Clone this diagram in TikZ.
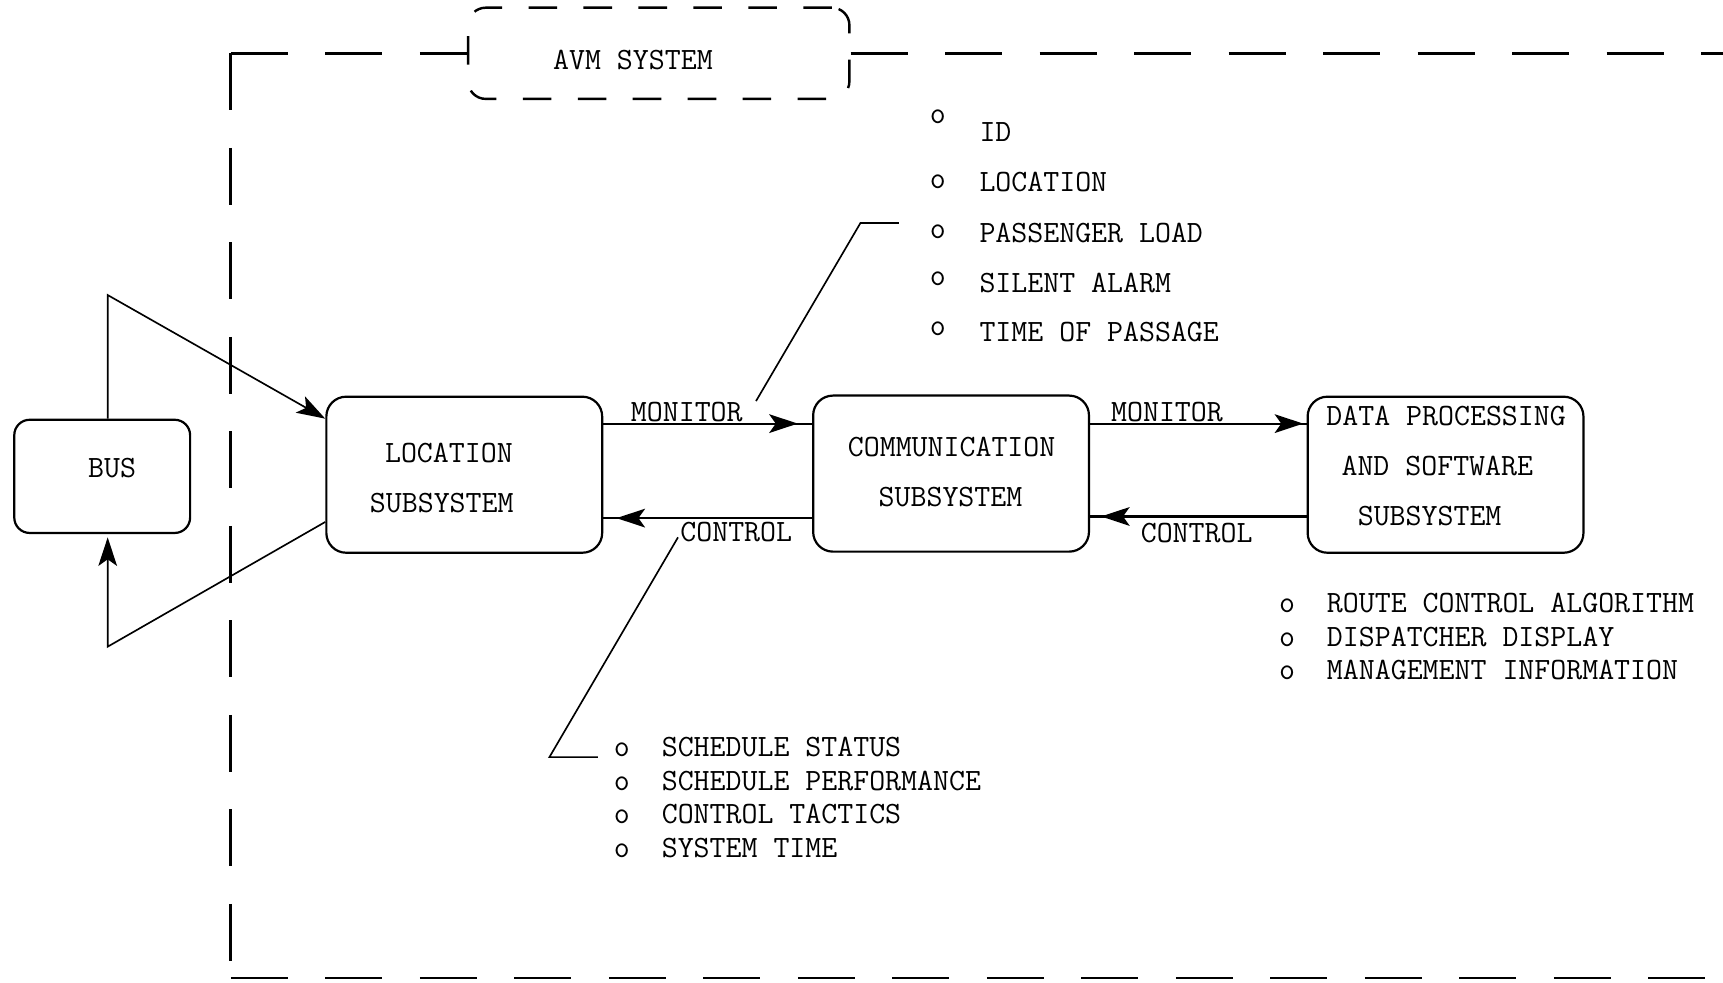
\documentclass[tikz,border=0pt]{standalone}
\usetikzlibrary{arrows.meta}
\begin{document}
\begin{tikzpicture}[x=0.5pt, y=-0.5pt,
  every node/.style={font=\ttfamily\fontsize{14.1}{17}\selectfont, inner sep=0pt},
  txt/.style={text height=8.6pt, text depth=0pt},
  dot/.style={text height=6.1pt, text depth=0pt},
  block/.style={draw, line width=1pt, rounded corners=9pt,
    minimum width=125.5pt, minimum height=71pt},
  sysbox/.style={draw, line width=1.1pt, rounded corners=8pt,
    dash pattern=on 13pt off 12pt},
  frame/.style={line width=1.2pt, dash pattern=on 26pt off 17pt},
  thin/.style={line width=0.75pt},
  tip/.style={-{Stealth[length=13pt,width=8.5pt,inset=3pt]}},
  flow/.style={line width=1pt,
    postaction={draw, tip, shorten >=#1}},
  flow/.default=6pt,
]
\useasboundingbox (0,0) rectangle (1568,894);

% ---- system boundary ----
\node[sysbox, minimum width=173.5pt, minimum height=41.5pt] (avm) at (599.5,48.5) {};
\node[txt] (avm-t) at (576,55) {AVM SYSTEM};
\coordinate (tl) at (210,48.5);
\coordinate (bl) at (210,890);
\coordinate (br) at (1572,890);
\coordinate (tr) at (1572,48.5);
\draw[frame] (tl) -- (avm.west);
\draw[frame] (avm.east) -- (tr);
\draw[frame] (tl) -- (bl);
\draw[frame] (bl) -- (br);

% ---- blocks ----
\node[block, minimum width=80pt, minimum height=51.5pt, rounded corners=7pt] (bus) at (93,433.5) {};
\node[txt] (bus-t) at (102,426) {BUS};

\node[block] (loc) at (422.5,432) {};
\node[txt] (loc-t1) at (408.5,412.5) {LOCATION};
\node[txt] (loc-t2) at (402,458) {SUBSYSTEM};

\node[block] (comm) at (865.5,431) {};
\node[txt] (comm-t1) at (866,406.5) {COMMUNICATION};
\node[txt] (comm-t2) at (865,452) {SUBSYSTEM};

\node[block] (data) at (1315.5,432) {};
\node[txt] (data-t1) at (1316,379) {DATA PROCESSING};
\node[txt] (data-t2) at (1308,424) {AND SOFTWARE};
\node[txt] (data-t3) at (1301,470) {SUBSYSTEM};

% ---- data flows between subsystems ----
\coordinate (ymon) at (0,385.5);
\coordinate (yctl) at (0,471.5);
\coordinate (yctlb) at (0,470);
\draw[flow=6.5pt] (loc.east |- ymon) -- (comm.west |- ymon);
\draw[flow=6pt] (comm.west |- yctl) -- (loc.east |- yctl);
\draw[flow=1.5pt] (comm.east |- ymon) -- (data.west |- ymon);
\draw[flow=5pt] (data.west |- yctlb) -- (comm.east |- yctlb);

\node[txt] (mon1) at (625,375) {MONITOR};
\node[txt] (ctl1) at (670,484) {CONTROL};
\node[txt] (mon2) at (1062,375) {MONITOR};
\node[txt] (ctl2) at (1089,485) {CONTROL};

% ---- bus / location loop ----
\coordinate (fbt) at (98,268.5);
\coordinate (fbb) at (98,588.5);
\coordinate (yin) at (0,381);
\coordinate (yout) at (0,475);
\draw[thin, tip] (bus.north -| fbt) -- (fbt) -- (loc.west |- yin);
\draw[thin, tip, shorten >=1.5pt] (loc.west |- yout) -- (fbb) -- (bus.south -| fbb);

% ---- leader lines to the item lists ----
\coordinate (la1) at (688,365);
\coordinate (la2) at (783,203);
\coordinate (la3) at (818,203);
\draw[thin] (la1) -- (la2) -- (la3);
\coordinate (lb1) at (617,489);
\coordinate (lb2) at (500,689);
\coordinate (lb3) at (544,689);
\draw[thin] (lb1) -- (lb2) -- (lb3);

% ---- monitored items ----
\node[dot] (mb1) at (853.5,106) {o};
\node[txt, anchor=west] (mi1) at (891,120) {ID};
\node[dot] (mb2) at (853.5,165.5) {o};
\node[txt, anchor=west] (mi2) at (891,165.5) {LOCATION};
\node[dot] (mb3) at (853.5,211) {o};
\node[txt, anchor=west] (mi3) at (891,212.5) {PASSENGER LOAD};
\node[dot] (mb4) at (853.5,253.5) {o};
\node[txt, anchor=west] (mi4) at (891,258) {SILENT ALARM};
\node[dot] (mb5) at (853.5,299) {o};
\node[txt, anchor=west] (mi5) at (891,302) {TIME OF PASSAGE};

% ---- control items ----
\node[txt, anchor=west] (ci1) at (558.3,680) {o\ \ SCHEDULE STATUS};
\node[txt, anchor=west] (ci2) at (558.3,710.5) {o\ \ SCHEDULE PERFORMANCE};
\node[txt, anchor=west] (ci3) at (558.3,741) {o\ \ CONTROL TACTICS};
\node[txt, anchor=west] (ci4) at (558.3,771.5) {o\ \ SYSTEM TIME};

% ---- processing functions ----
\node[txt, anchor=west] (pf1) at (1163.6,549) {o\ \ ROUTE CONTROL ALGORITHM};
\node[txt, anchor=west] (pf2) at (1163.6,579.5) {o\ \ DISPATCHER DISPLAY};
\node[txt, anchor=west] (pf3) at (1163.6,610) {o\ \ MANAGEMENT INFORMATION};
\end{tikzpicture}
\end{document}
